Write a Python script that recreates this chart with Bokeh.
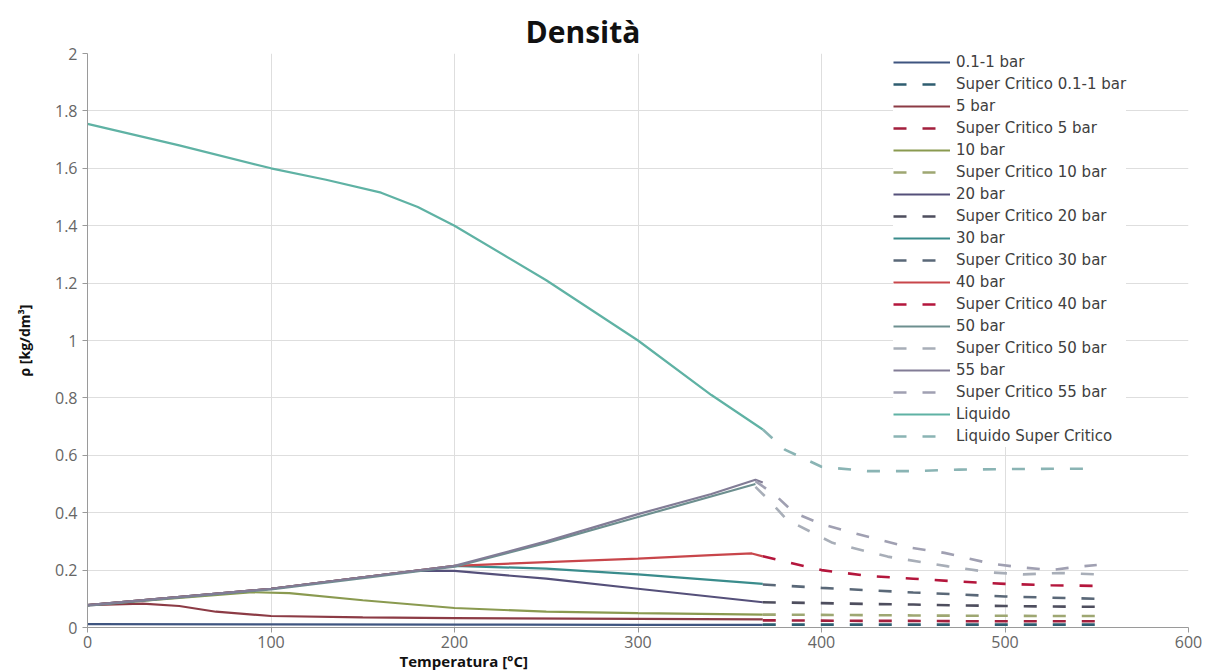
from bokeh.plotting import figure
from bokeh.models import Legend, LegendItem, FixedTicker, Title
from bokeh.embed import file_html
from bokeh.resources import INLINE

# ---------------- data ----------------
title_text = "Densità"
x_label = "Temperatura [°C]"
y_label = "ρ [kg/dm³]"
x_ticks = [0, 100, 200, 300, 400, 500, 600]
y_ticks = [0, 0.2, 0.4, 0.6, 0.8, 1.0, 1.2, 1.4, 1.6, 1.8, 2.0]
y_tick_labels = ["0", "0.2", "0.4", "0.6", "0.8", "1", "1.2", "1.4", "1.6", "1.8", "2"]

# subcritical (solid) series
t_01 = [0, 100, 200, 300, 368]
rho_01 = [0.012, 0.011, 0.010, 0.009, 0.009]

t_5 = [0, 30, 50, 70, 100, 150, 200, 300, 368]
rho_5 = [0.078, 0.083, 0.075, 0.055, 0.040, 0.035, 0.033, 0.030, 0.028]

t_10 = [0, 50, 90, 110, 150, 200, 250, 300, 368]
rho_10 = [0.078, 0.103, 0.123, 0.120, 0.095, 0.068, 0.055, 0.050, 0.045]

t_20 = [0, 100, 150, 180, 200, 250, 300, 368]
rho_20 = [0.078, 0.135, 0.175, 0.198, 0.197, 0.170, 0.135, 0.088]

t_30 = [0, 100, 150, 200, 250, 300, 368]
rho_30 = [0.078, 0.135, 0.175, 0.215, 0.205, 0.185, 0.152]

t_40 = [0, 100, 150, 200, 250, 300, 340, 362, 368]
rho_40 = [0.078, 0.135, 0.175, 0.215, 0.228, 0.240, 0.252, 0.258, 0.248]

t_50 = [0, 100, 150, 200, 250, 300, 364]
rho_50 = [0.076, 0.133, 0.172, 0.212, 0.295, 0.385, 0.500]

t_55 = [0, 100, 150, 200, 250, 300, 340, 364, 368]
rho_55 = [0.078, 0.135, 0.175, 0.215, 0.300, 0.395, 0.465, 0.515, 0.505]

t_liq = [0, 50, 100, 130, 160, 180, 200, 250, 300, 340, 368]
rho_liq = [1.755, 1.680, 1.600, 1.560, 1.515, 1.465, 1.400, 1.210, 1.000, 0.810, 0.690]

# supercritical (dashed) series
t_sc = [368, 400, 425, 450, 475, 500, 525, 550]
rho_01_sc = [0.010, 0.010, 0.010, 0.010, 0.010, 0.010, 0.010, 0.010]
rho_5_sc = [0.025, 0.024, 0.023, 0.023, 0.022, 0.022, 0.022, 0.022]
rho_10_sc = [0.045, 0.044, 0.043, 0.042, 0.041, 0.041, 0.040, 0.040]
rho_20_sc = [0.088, 0.085, 0.082, 0.080, 0.077, 0.075, 0.073, 0.072]
rho_30_sc = [0.150, 0.138, 0.130, 0.122, 0.115, 0.108, 0.104, 0.100]
rho_40_sc = [0.248, 0.200, 0.180, 0.170, 0.160, 0.152, 0.147, 0.145]

t_50_sc = [364, 372, 381, 406, 436, 469, 492, 510, 530, 550]
rho_50_sc = [0.490, 0.440, 0.376, 0.295, 0.247, 0.213, 0.192, 0.185, 0.190, 0.185]

t_55_sc = [364, 375, 385, 400, 417, 447, 467, 492, 508, 525, 540, 550]
rho_55_sc = [0.510, 0.460, 0.400, 0.360, 0.330, 0.280, 0.260, 0.223, 0.210, 0.200, 0.212, 0.218]

t_liq_sc = [368, 380, 400, 425, 450, 475, 500, 525, 550]
rho_liq_sc = [0.690, 0.620, 0.560, 0.545, 0.545, 0.550, 0.552, 0.553, 0.553]

series = [
    ("0.1-1 bar", t_01, rho_01, "#3f5580", "solid"),
    ("Super Critico 0.1-1 bar", t_sc, rho_01_sc, "#2f5d70", "dashed"),
    ("5 bar", t_5, rho_5, "#8c3b45", "solid"),
    ("Super Critico 5 bar", t_sc, rho_5_sc, "#a31f3d", "dashed"),
    ("10 bar", t_10, rho_10, "#8a9a50", "solid"),
    ("Super Critico 10 bar", t_sc, rho_10_sc, "#9ea772", "dashed"),
    ("20 bar", t_20, rho_20, "#55507a", "solid"),
    ("Super Critico 20 bar", t_sc, rho_20_sc, "#4e4e5e", "dashed"),
    ("30 bar", t_30, rho_30, "#3a8c8c", "solid"),
    ("Super Critico 30 bar", t_sc, rho_30_sc, "#5a6878", "dashed"),
    ("40 bar", t_40, rho_40, "#c8464b", "solid"),
    ("Super Critico 40 bar", t_sc, rho_40_sc, "#b4163c", "dashed"),
    ("50 bar", t_50, rho_50, "#6d8f8f", "solid"),
    ("Super Critico 50 bar", t_50_sc, rho_50_sc, "#a8aeb8", "dashed"),
    ("55 bar", t_55, rho_55, "#827c96", "solid"),
    ("Super Critico 55 bar", t_55_sc, rho_55_sc, "#a0a0b2", "dashed"),
    ("Liquido", t_liq, rho_liq, "#5fb2a4", "solid"),
    ("Liquido Super Critico", t_liq_sc, rho_liq_sc, "#8ab4b4", "dashed"),
]

# ---------------- figure ----------------
FONT = "Open Sans"

p = figure(width=1216, height=672, x_range=(0, 600), y_range=(0, 2),
           output_backend="svg", toolbar_location=None,
           min_border_left=87, min_border_right=28,
           min_border_top=53, min_border_bottom=44)

p.title.text = title_text
p.title.align = "left"
p.title.offset = 438
p.title.text_font = FONT
p.title.text_font_size = "30px"
p.title.text_font_style = "bold"
p.title.text_color = "#111111"
p.title.standoff = 4

p.background_fill_color = "white"
p.border_fill_color = "white"
p.outline_line_color = None

for ax in (p.xaxis[0], p.yaxis[0]):
    ax.axis_line_color = "#9a9a9a"
    ax.major_tick_line_color = "#9a9a9a"
    ax.minor_tick_line_color = None
    ax.major_tick_out = 5
    ax.major_tick_in = 0
    ax.major_label_text_font = FONT
    ax.major_label_text_font_size = "16px"
    ax.major_label_text_color = "#666666"
    ax.major_label_standoff = 5

p.xaxis.major_label_standoff = 3

p.xaxis.ticker = FixedTicker(ticks=x_ticks)
p.yaxis.ticker = FixedTicker(ticks=y_ticks)
p.yaxis.major_label_overrides = {t: l for t, l in zip(y_ticks, y_tick_labels)}

p.yaxis.axis_label = y_label
p.yaxis.axis_label_text_font = FONT
p.yaxis.axis_label_text_font_size = "14px"
p.yaxis.axis_label_text_font_style = "bold"
p.yaxis.axis_label_text_color = "#111111"
p.yaxis.axis_label_standoff = 18

p.xgrid.ticker = FixedTicker(ticks=x_ticks)
p.ygrid.ticker = FixedTicker(ticks=y_ticks)
p.grid.grid_line_color = "#dedede"
p.grid.grid_line_width = 1

xtitle = Title(text=x_label, align="left", offset=312, vertical_align="top",
               text_font=FONT, text_font_size="15px", text_font_style="bold",
               text_color="#111111", standoff=0)
p.add_layout(xtitle, "below")

items = []
for name, xs, ys, color, style in series:
    if style == "solid":
        r = p.line(xs, ys, line_color=color, line_width=2.2)
    else:
        r = p.line(xs, ys, line_color=color, line_width=2.6, line_dash="13 16")
    items.append(LegendItem(label=name, renderers=[r]))

legend = Legend(items=items, location=(806, 180))
legend.label_text_font = "DejaVu Sans"
legend.label_text_font_size = "15px"
legend.label_text_color = "#404040"
legend.label_height = 22
legend.glyph_height = 22
legend.glyph_width = 57
legend.spacing = 0
legend.padding = 0
legend.margin = 0
legend.label_standoff = 6
legend.border_line_color = None
legend.background_fill_color = "white"
legend.background_fill_alpha = 1.0
p.add_layout(legend)

open("out.html", "w").write(file_html(p, INLINE))
